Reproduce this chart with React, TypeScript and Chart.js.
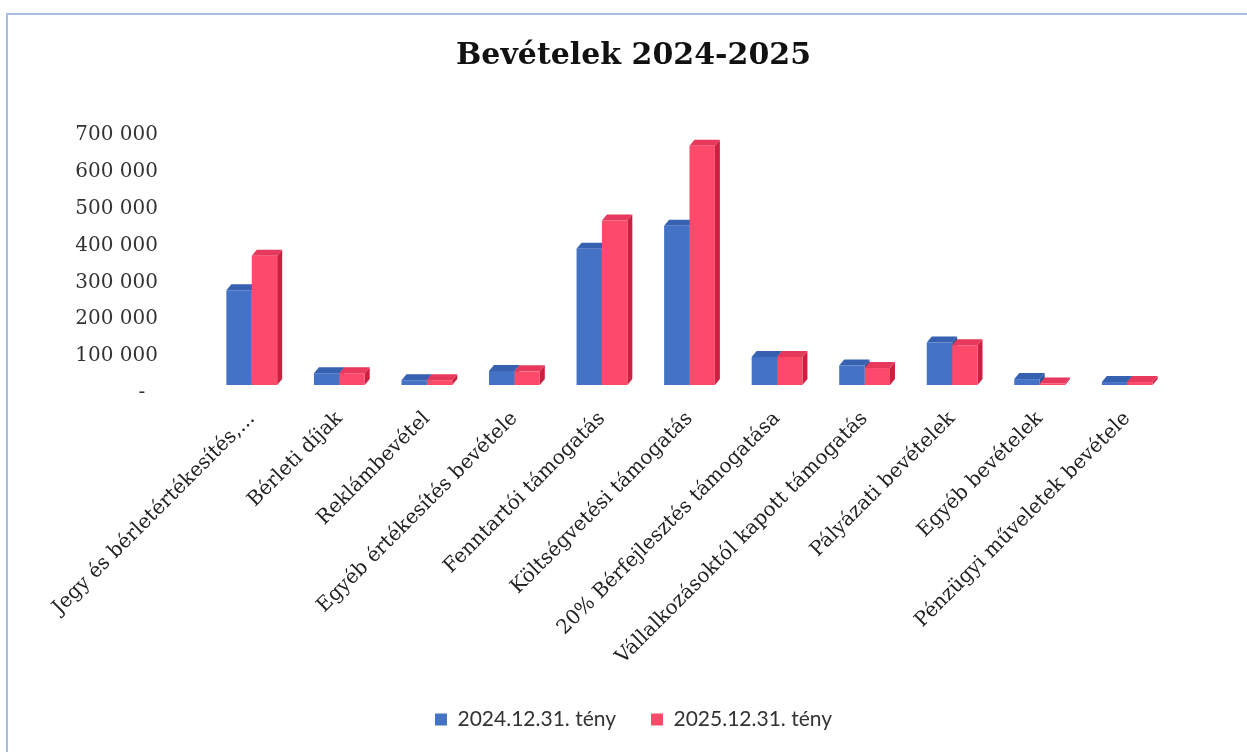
import React, { useEffect, useRef } from "react";
import { Chart, registerables } from "chart.js";

Chart.register(...registerables);

const categories = [
  "Jegy és bérletértékesítés,...",
  "Bérleti díjak",
  "Reklámbevétel",
  "Egyéb értékesítés bevétele",
  "Fenntartói támogatás",
  "Költségvetési támogatás",
  "20% Bérfejlesztés támogatása",
  "Vállalkozásoktól kapott támogatás",
  "Pályázati bevételek",
  "Egyéb bevételek",
  "Pénzügyi műveletek bevétele",
];

const series2024 = [257000, 32000, 13000, 38000, 370000, 432000, 76000, 53000, 115000, 16000, 8000];
const series2025 = [351000, 32000, 13000, 37000, 446000, 649000, 76000, 46000, 108000, 4000, 8000];

const seriesLabels = ["2024.12.31. tény", "2025.12.31. tény"];
const yTickValues = [0, 100000, 200000, 300000, 400000, 500000, 600000, 700000];

const FRONT = ["#4472c4", "#fd4a6b"];
const TOP = ["#3561b0", "#e6395b"];
const SIDE = ["#2c5296", "#cf1f41"];
const DX = 5;
const DY = 6;

const depthPlugin = {
  id: "depth3d",
  beforeDatasetsDraw(chart: any) {
    const ctx = chart.ctx;
    chart.data.datasets.forEach((_ds: any, di: number) => {
      const meta = chart.getDatasetMeta(di);
      meta.data.forEach((bar: any) => {
        const { x, y, base, width } = bar.getProps(["x", "y", "base", "width"], true);
        const l = x - width / 2;
        const r = x + width / 2;
        ctx.save();
        ctx.fillStyle = SIDE[di];
        ctx.beginPath();
        ctx.moveTo(r, y);
        ctx.lineTo(r + DX, y - DY);
        ctx.lineTo(r + DX, base - DY);
        ctx.lineTo(r, base);
        ctx.closePath();
        ctx.fill();
        ctx.fillStyle = TOP[di];
        ctx.beginPath();
        ctx.moveTo(l, y);
        ctx.lineTo(l + DX, y - DY);
        ctx.lineTo(r + DX, y - DY);
        ctx.lineTo(r, y);
        ctx.closePath();
        ctx.fill();
        ctx.restore();
      });
    });
  },
};

function formatTick(v: number): string {
  if (v === 0) return "-  ";
  return String(v).replace(/\B(?=(\d{3})+(?!\d))/g, " ");
}

export default function App() {
  const canvasRef = useRef<HTMLCanvasElement | null>(null);

  useEffect(() => {
    document.body.style.margin = "0";
    document.body.style.background = "#ffffff";
    const canvas = canvasRef.current;
    if (!canvas) return;
    const chart = new Chart(canvas, {
      type: "bar",
      data: {
        labels: categories,
        datasets: [
          {
            label: seriesLabels[0],
            data: series2024,
            backgroundColor: FRONT[0],
            borderWidth: 0,
            categoryPercentage: 0.58,
            barPercentage: 1.0,
          },
          {
            label: seriesLabels[1],
            data: series2025,
            backgroundColor: FRONT[1],
            borderWidth: 0,
            categoryPercentage: 0.58,
            barPercentage: 1.0,
          },
        ],
      },
      options: {
        responsive: false,
        animation: false,
        layout: { padding: { left: 20, right: 0, top: 0, bottom: 12 } },
        plugins: {
          title: {
            display: true,
            text: "Bevételek 2024-2025",
            color: "#111111",
            font: { family: "'DejaVu Serif'", size: 30, weight: "bold" },
            padding: { top: 38, bottom: 53 },
          },
          legend: {
            display: true,
            position: "bottom",
            labels: {
              boxWidth: 12,
              boxHeight: 12,
              padding: 35,
              color: "#333333",
              font: { family: "Lato", size: 21 },
            },
          },
          tooltip: { enabled: false },
        },
        scales: {
          x: {
            grid: { display: false, drawTicks: false },
            border: { display: false },
            ticks: {
              autoSkip: false,
              minRotation: 45,
              maxRotation: 45,
              padding: 22,
              color: "#222222",
              font: { family: "'DejaVu Serif'", size: 20 },
            },
            afterFit: (s: any) => {
              s.height = 289;
            },
          },
          y: {
            position: "left",
            min: 0,
            max: 700000,
            grid: { display: false, drawTicks: false },
            border: { display: false },
            afterBuildTicks: (s: any) => {
              s.ticks = yTickValues.map((v) => ({ value: v }));
            },
            ticks: {
              padding: 50,
              labelOffset: 8,
              color: "#333333",
              font: { family: "'DejaVu Serif'", size: 20 },
              callback: (v: any) => formatTick(Number(v)),
            },
            afterFit: (s: any) => {
              s.width = 188;
            },
          },
          y2: {
            position: "right",
            display: true,
            grid: { display: false, drawTicks: false },
            border: { display: false },
            ticks: { display: false },
            afterFit: (s: any) => {
              s.width = 76;
            },
          },
        },
      },
      plugins: [depthPlugin],
    });
    return () => chart.destroy();
  }, []);

  return (
    <div style={{ position: "fixed", left: 0, top: 0, width: 1247, height: 752, background: "#ffffff", overflow: "hidden" }}>
      <div style={{ position: "absolute", left: 6, top: 13, width: 1241, height: 2, background: "#a9bbdf" }} />
      <div style={{ position: "absolute", left: 6, top: 13, width: 2, height: 739, background: "#a9bbdf" }} />
      <canvas ref={canvasRef} width={1247} height={752} style={{ position: "absolute", left: 0, top: 0 }} />
    </div>
  );
}
